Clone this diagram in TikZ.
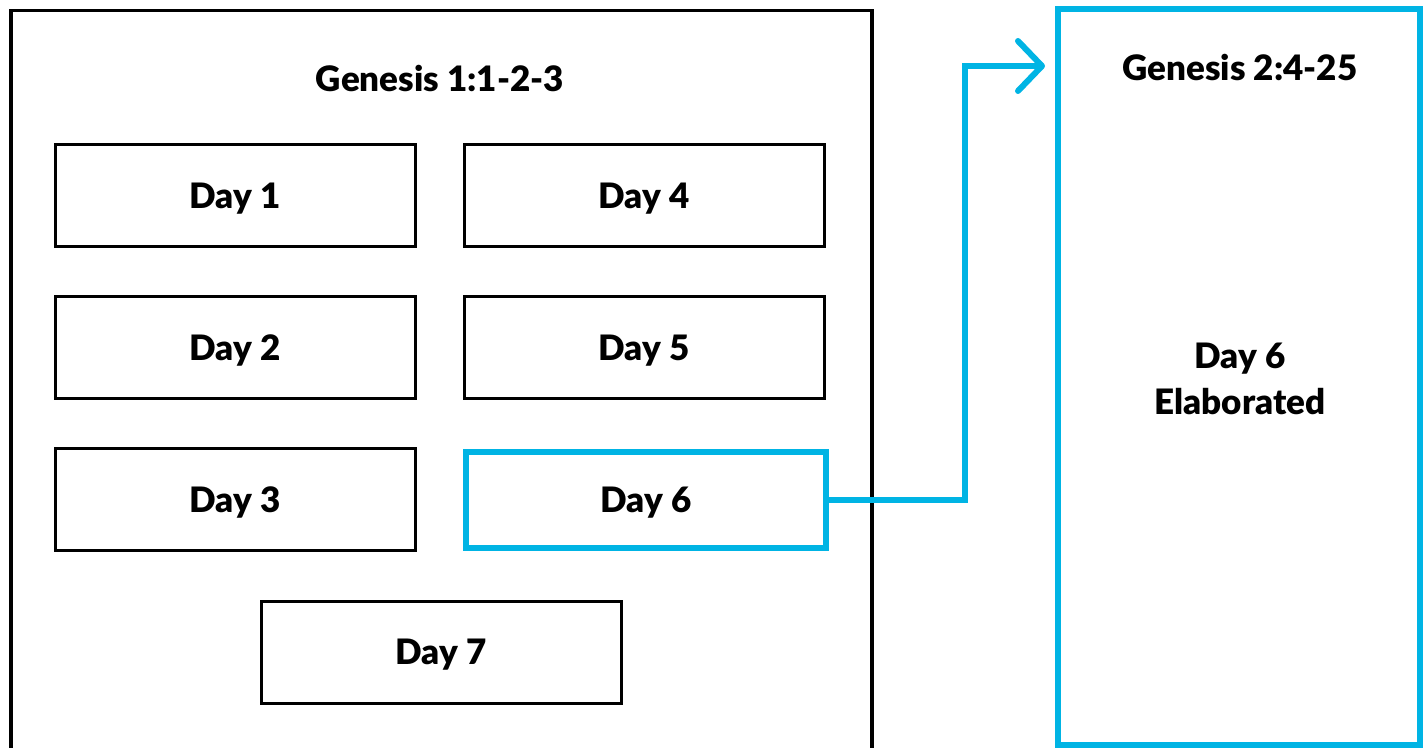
\documentclass[tikz,border=0pt]{standalone}
\usepackage{fontspec}
\setmainfont{Lato}[BoldFont=Lato Black]
\usetikzlibrary{positioning,arrows.meta,calc}
\definecolor{skyblue}{RGB}{0,180,228}

\begin{document}
\begin{tikzpicture}[x=0.5pt,y=-0.5pt,font=\fontsize{17.5}{21}\selectfont\bfseries]
\tikzstyle{day} = [draw,line width=1.5pt,fill=white,shape=rectangle,minimum width=180pt,minimum height=51pt,inner sep=0pt,text depth=0pt]
\tikzstyle{hot} = [draw=skyblue,line width=3pt,fill=white,shape=rectangle,inner sep=0pt,text depth=0pt]
\tikzstyle{link} = [draw=skyblue,line width=3pt,-{Straight Barb[length=12pt,width=25pt,round]}]
\useasboundingbox (0,0) rectangle (1425,748);
\begin{scope}
\clip (0,0) rectangle (1425,748);
\node[draw,line width=1.75pt,shape=rectangle,minimum width=430.5pt,minimum height=400pt,anchor=north west] (gen1) at (9,9) {};
\end{scope}
\node[text depth=0pt] (title1) at (440,78) {Genesis 1:1-2-3};
\node[day] (d1) at (235,196) {Day 1};
\node[day] (d4) at (644,196) {Day 4};
\node[day] (d2) at (235,348) {Day 2};
\node[day] (d5) at (644,348) {Day 5};
\node[day] (d3) at (235,500) {Day 3};
\node[hot,minimum width=180pt,minimum height=48pt] (d6) at (646,500) {Day 6};
\node[day] (d7) at (441,652) {Day 7};
\node[hot,minimum width=181pt,minimum height=368pt] (gen2) at (1239,377) {};
\node[text depth=0pt] (title2) at (1240,67) {Genesis 2:4-25};
\node[align=center,font=\fontsize{17.5}{23}\selectfont\bfseries] (elab) at (1240,379) {Day 6\\Elaborated};
\coordinate (bend) at (965,500);
\coordinate (tip) at (1045,66);
\draw[link] (d6.east) -- (bend) |- (tip);
\end{tikzpicture}
\end{document}
